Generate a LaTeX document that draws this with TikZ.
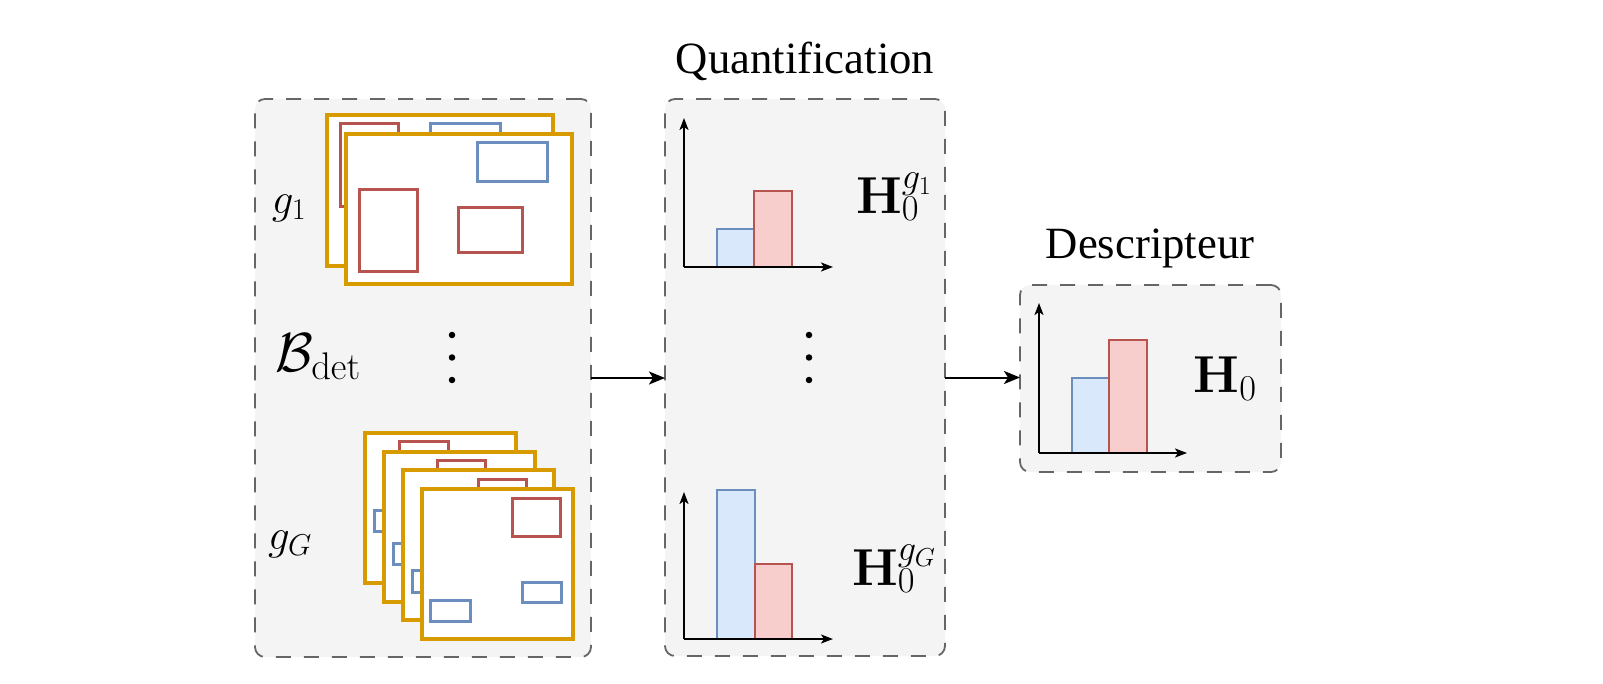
\RequirePackage{fix-cm}
\documentclass[tikz,border=0pt]{standalone}
\usepackage[no-math]{fontspec}
\newfontfamily\titlefont{Liberation Serif}
\usetikzlibrary{arrows.meta}
\definecolor{gold}{HTML}{D79B00}
\definecolor{redc}{HTML}{B85450}
\definecolor{bluec}{HTML}{6C8EBF}
\definecolor{redfill}{HTML}{F8CECC}
\definecolor{bluefill}{HTML}{DAE8FC}
\definecolor{boxfill}{HTML}{F4F4F4}
\definecolor{boxgray}{HTML}{666666}
\begin{document}
\begin{tikzpicture}[x=1pt,y=-1pt,
  panel/.style={draw=boxgray, fill=boxfill, line width=1.8pt, dash pattern=on 15pt off 13pt, rounded corners=10pt, inner sep=0pt, outer sep=0pt},
  frame/.style={draw=gold, fill=white, line width=3.2pt},
  redbox/.style={draw=redc, line width=3pt},
  bluebox/.style={draw=bluec, line width=3pt},
  redbar/.style={draw=redc, fill=redfill, line width=1.6pt},
  bluebar/.style={draw=bluec, fill=bluefill, line width=1.6pt},
  axis/.style={draw=black, line width=2pt, -{Stealth[length=12pt,width=9pt,inset=3pt]}},
  conn/.style={draw=black, line width=2pt, -{Stealth[length=16pt,width=13pt,inset=4pt]}},
  title/.style={font=\titlefont\fontsize{44.7}{54}\selectfont, inner sep=0pt},
  biglbl/.style={font=\fontsize{52}{60}\selectfont, inner sep=0pt},
  blbl/.style={font=\fontsize{55}{64}\selectfont, inner sep=0pt},
  smalllbl/.style={font=\fontsize{43}{50}\selectfont, inner sep=0pt},
  dot/.style={circle, fill=black, inner sep=0pt, minimum size=6.5pt}
]
\useasboundingbox (0,0) rectangle (1603,684);

% panels
\node[panel, minimum width=336pt, minimum height=558pt] (detbox) at (423,378) {};
\node[panel, minimum width=280pt, minimum height=557pt] (quant) at (805,377.5) {};
\node[panel, minimum width=261pt, minimum height=187pt] (desc) at (1150.5,378.5) {};

% connectors
\draw[conn] (detbox.east) -- (detbox.east -| quant.west);
\draw[conn] (quant.east) -- (quant.east -| desc.west);

% titles
\node[title] (qtitle) at (805,61) {Quantification};
\node[title] (dtitle) at (1150,248) {Descripteur};

% top stack
\draw[frame] (327,115) rectangle (553,266);
\draw[redbox] (340,124) rectangle (398,207);
\draw[bluebox] (430,124) rectangle (500,165);
\draw[frame] (346,134) rectangle (572,284);
\draw[bluebox] (477,143) rectangle (547,182);
\draw[redbox] (359,190) rectangle (417,272);
\draw[redbox] (458,208) rectangle (522,253);

% bottom stack
\begin{scope}[shift={(365,433)}]
  \draw[frame] (0,0) rectangle (151,150);
  \draw[redbox] (34,8) rectangle (83,46);
  \draw[bluebox] (9,77) rectangle (49,98);
\end{scope}
\begin{scope}[shift={(384,452)}]
  \draw[frame] (0,0) rectangle (151,150);
  \draw[redbox] (53,8) rectangle (101,46);
  \draw[bluebox] (9,91) rectangle (49,112);
\end{scope}
\begin{scope}[shift={(403,470)}]
  \draw[frame] (0,0) rectangle (151,150);
  \draw[redbox] (75,9) rectangle (123,47);
  \draw[bluebox] (9,100) rectangle (49,122);
\end{scope}
\begin{scope}[shift={(422,489)}]
  \draw[frame] (0,0) rectangle (151,150);
  \draw[redbox] (90,9) rectangle (138,47);
  \draw[bluebox] (100,93) rectangle (139,113);
  \draw[bluebox] (8,111) rectangle (48,132);
\end{scope}

% left labels
\node[smalllbl] (lg1) at (289,208) {$g_1$};
\node[blbl] (lb) at (318,357) {$\mathcal{B}_{\mathrm{det}}$};
\node[smalllbl] (lgG) at (290,544) {$g_G$};
\node[dot] (ld1) at (452,335) {};
\node[dot] (ld2) at (452,357.5) {};
\node[dot] (ld3) at (452,380) {};

% histogram top (quantification)
\draw[bluebar] (717,229) rectangle (754,267);
\draw[redbar] (754,191) rectangle (792,267);
\coordinate (o1) at (684,267);
\draw[axis] (o1) -- (684,118);
\draw[axis] (o1) -- (833,267);
\node[biglbl] (h1) at (894,197) {$\mathbf{H}_0^{g_1}$};

\node[dot] (md1) at (809,335) {};
\node[dot] (md2) at (809,357.5) {};
\node[dot] (md3) at (809,380) {};

% histogram bottom
\draw[bluebar] (717,490) rectangle (755,639);
\draw[redbar] (755,564) rectangle (792,639);
\coordinate (o2) at (684,639);
\draw[axis] (o2) -- (684,492);
\draw[axis] (o2) -- (833,639);
\node[biglbl] (hG) at (894,569) {$\mathbf{H}_0^{g_G}$};

% descriptor histogram
\draw[bluebar] (1072,378) rectangle (1109,453);
\draw[redbar] (1109,340) rectangle (1147,453);
\coordinate (o3) at (1039,453);
\draw[axis] (o3) -- (1039,303);
\draw[axis] (o3) -- (1187,453);
\node[biglbl] (h0) at (1225,379) {$\mathbf{H}_0$};
\end{tikzpicture}
\end{document}
